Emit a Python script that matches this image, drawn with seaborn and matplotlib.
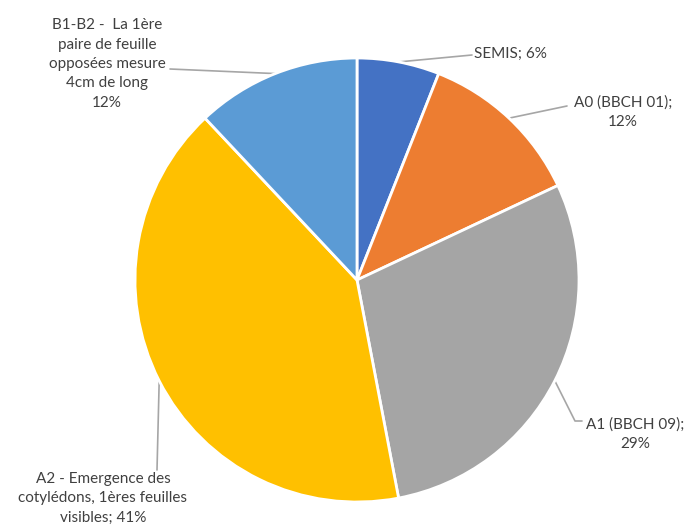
import numpy as np
import matplotlib.pyplot as plt
import seaborn as sns

# Data
labels = ['SEMIS; 6%', 'A0 (BBCH 01);\n12%', 'A1 (BBCH 09);\n29%',
          'A2 - Emergence des\ncotylédons, 1ères feuilles\nvisibles; 41%',
          'B1-B2 -  La 1ère\npaire de feuille\nopposées mesure\n4cm de long\n12%']
values = [6, 12, 29, 41, 12]
colors = ['#4472C4', '#ED7D31', '#A5A5A5', '#FFC000', '#5B9BD5']

sns.set_theme(style='white')
plt.rcParams['font.family'] = ['Lato', 'DejaVu Sans']

W, H = 690, 525
fig = plt.figure(figsize=(6.9, 5.25), dpi=100)
ax = fig.add_axes([0, 0, 1, 1])

cx, cy, r = 357, H - 280, 222
wedges, _ = ax.pie(values, colors=colors, startangle=90, counterclock=False,
                   center=(cx, cy), radius=r, frame=True,
                   wedgeprops=dict(edgecolor='white', linewidth=2))
ax.set_xlim(0, W)
ax.set_ylim(0, H)
ax.axis('off')

# label placement (pixel coords from top-left): text anchor, leader path, alignment
label_pos = [
    dict(text=(474, 54), path=[(472, 55)], ha='left'),
    dict(text=(623, 112), path=[(567, 106)], ha='center'),
    dict(text=(635, 434), path=[(575, 421), (582, 421)], ha='center'),
    dict(text=(103, 498), path=[(157, 470)], ha='center'),
    dict(text=(107, 64), path=[(170, 69)], ha='center'),
]
line_color = '#A6A6A6'
text_color = '#404040'

for w, lab, pos in zip(wedges, labels, label_pos):
    th = np.deg2rad((w.theta1 + w.theta2) / 2)
    x0, y0 = cx + r * np.cos(th), cy + r * np.sin(th)
    xs = [x0] + [p[0] for p in pos['path']]
    ys = [y0] + [H - p[1] for p in pos['path']]
    ax.plot(xs, ys, color=line_color, lw=1.2, zorder=0.5)
    tx, ty = pos['text']
    ax.text(tx, H - ty, lab, ha=pos['ha'], va='center', fontsize=11,
            color=text_color, linespacing=1.5, multialignment='center')

fig.savefig('out.png', dpi=100, facecolor='white')
